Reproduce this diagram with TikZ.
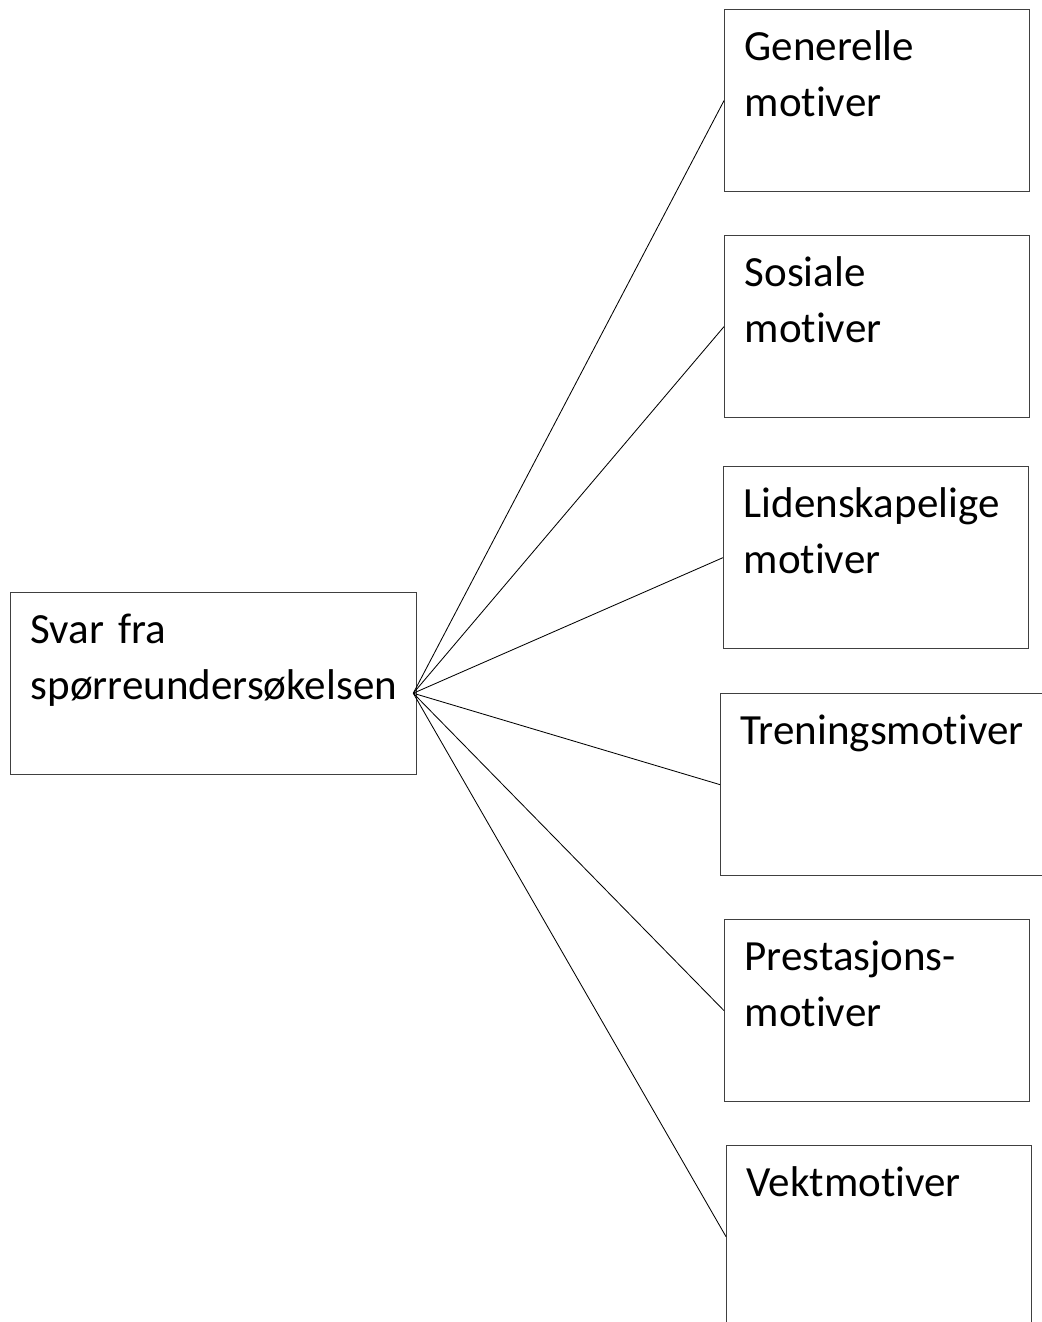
\documentclass[tikz,border=0pt]{standalone}
\usepackage{fontspec}
\setmainfont{Carlito}[Ligatures=NoCommon]
\usepackage{tikz}

\tikzset{
  motivboks/.style={draw=black!75, line width=0.9pt, anchor=north west,
    inner xsep=0.5cm, inner ysep=0pt, text width=6.625cm, align=left,
    text height=1.275cm, text depth=3.275cm,
    font=\fontsize{30.6}{39.8}\selectfont},
  linje/.style={line width=0.6pt}
}

\begin{document}
\begin{tikzpicture}
\useasboundingbox (0,0) rectangle (26.05,-33.05);
\node[motivboks, text width=9.15cm] (svar) at (0.25,-14.8) {Svar fra\\spørreundersøkelsen};
\node[motivboks] (gen) at (18.1,-0.225) {Generelle\\motiver};
\node[motivboks] (sos) at (18.1,-5.875) {Sosiale\\motiver};
\node[motivboks] (lid) at (18.075,-11.65) {Lidenskapelige\\motiver};
\node[motivboks, text width=7.25cm] (tren) at (18.0,-17.325) {Treningsmotiver};
\node[motivboks] (pres) at (18.1,-22.975) {Prestasjons-\\motiver};
\node[motivboks] (vekt) at (18.15,-28.625) {Vektmotiver};
%\node at (10,-17){};
\coordinate (knute) at ([xshift=-0.1cm,yshift=-0.24cm]svar.east);
\foreach \m in {gen,sos,lid,tren,pres,vekt}
  \draw[linje] (knute) -- (\m.west);
\end{tikzpicture}
\end{document}
